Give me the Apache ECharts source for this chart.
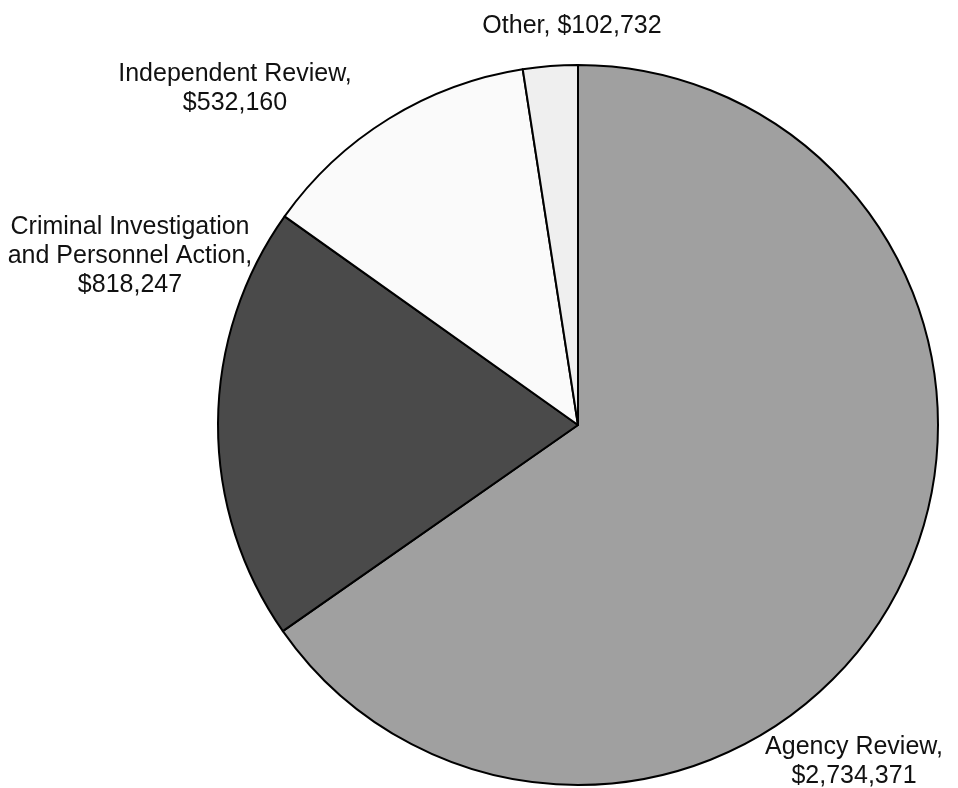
<!DOCTYPE html>
<html>
<head>
<meta charset="utf-8">
<script src="https://cdn.jsdelivr.net/npm/echarts@6/dist/echarts.min.js"></script>
<style>
  html, body { margin: 0; padding: 0; background: #fff; }
  #main { width: 958px; height: 788px; }
</style>
</head>
<body>
<div id="main"></div>
<script>
// slice data, clockwise from 12 o'clock
const names = ["Agency Review", "Criminal Investigation\nand Personnel Action", "Independent Review", "Other"]
const values = [2734371, 818247, 532160, 102732]
const colors = ["#a0a0a0", "#4a4a4a", "#fafafa", "#efefef"]

// where each label sits (centre of the text block)
const labelPos = [
  { x: 854, y: 762 },
  { x: 130, y: 256 },
  { x: 235, y: 89 },
  { x: 572, y: 26 }
]

function money(v) {
  return "$" + v.toLocaleString("en-US")
}

const data = names.map((n, i) => ({
  name: n,
  value: values[i],
  itemStyle: { color: colors[i] }
}))

var myChart = echarts.init(document.getElementById('main'))

var option = {
  animation: false,
  backgroundColor: '#fff',
  series: [
    {
      type: 'pie',
      center: [578, 425],
      radius: 360,
      startAngle: 90,
      clockwise: true,
      avoidLabelOverlap: false,
      data: data,
      itemStyle: { borderColor: '#000', borderWidth: 2 },
      label: {
        show: true,
        position: 'outside',
        fontFamily: 'Liberation Sans, Arial, sans-serif',
        fontSize: 25,
        lineHeight: 29,
        color: '#111',
        align: 'center',
        overflow: 'none',
        formatter: p => p.dataIndex == 3 ? p.name + ", " + money(p.value) : p.name + ",\n" + money(p.value)
      },
      labelLine: { show: false },
      labelLayout: p => ({
        x: labelPos[p.dataIndex].x,
        y: labelPos[p.dataIndex].y,
        align: 'center',
        verticalAlign: 'middle',
        hideOverlap: false
      }),
      emphasis: { disabled: true }
    }
  ]
}

myChart.setOption(option)
</script>
</body>
</html>
